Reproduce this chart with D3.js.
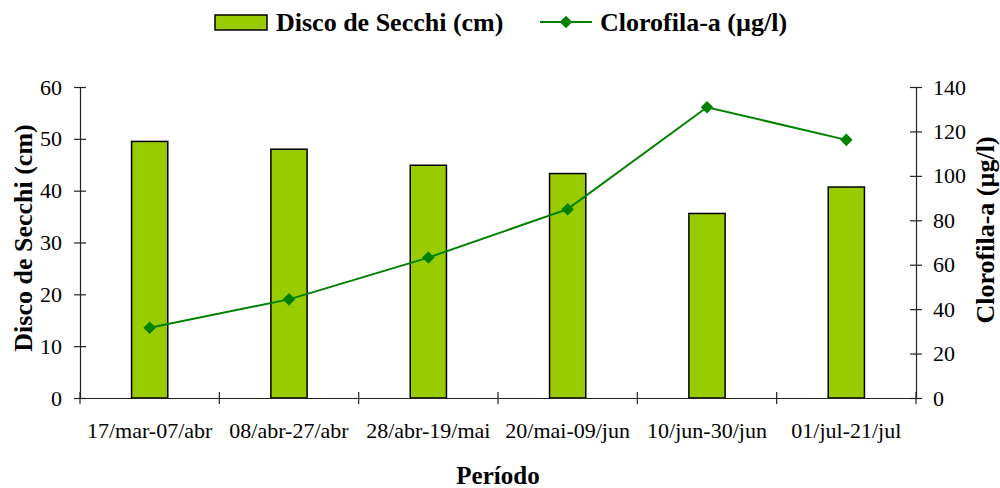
<!doctype html>
<html>
<head>
<meta charset="UTF-8">
<script src="https://d3js.org/d3.v7.min.js"></script>
<style>
  body { margin: 0; background: #fff; }
  text { font-family: "Liberation Serif", "Times New Roman", serif; fill: #000; }
</style>
</head>
<body>
<svg id="chart" width="1000" height="488"></svg>
<script>
// data
var periods = ["17/mar-07/abr", "08/abr-27/abr", "28/abr-19/mai", "20/mai-09/jun", "10/jun-30/jun", "01/jul-21/jul"];
var secchi = [49.5, 48.0, 44.9, 43.3, 35.6, 40.7];
var clorofila = [31.6, 44.4, 63.2, 85.0, 130.9, 116.2];
var leftTicks = [0, 10, 20, 30, 40, 50, 60];
var rightTicks = [0, 20, 40, 60, 80, 100, 120, 140];

var svg = d3.select("#chart");
var margin = {top: 87, right: 84, bottom: 90, left: 80};
var width = 1000 - margin.left - margin.right;
var height = 488 - margin.top - margin.bottom;
var serif = '"Liberation Serif", "Times New Roman", serif';

var g = svg.append("g").attr("transform", "translate(" + margin.left + "," + margin.top + ")");

var x = d3.scaleBand().domain(periods).range([0, width]);
var yL = d3.scaleLinear().domain([0, 60]).range([height, 0]);
var yR = d3.scaleLinear().domain([0, 140]).range([height, 0]);

// bars
var bw = x.bandwidth() * 0.26;
g.selectAll(".bar").data(secchi).enter().append("rect")
  .attr("x", function(d, i) { return x(periods[i]) + x.bandwidth() / 2 - bw / 2; })
  .attr("y", function(d) { return yL(d); })
  .attr("width", bw)
  .attr("height", function(d) { return height - yL(d); })
  .attr("fill", "#99cc00")
  .attr("stroke", "#000")
  .attr("stroke-width", 1.5);

// axes
function styleAxis(sel) {
  sel.attr("font-family", serif).attr("font-size", 22);
  sel.select(".domain").attr("stroke", "#222").attr("stroke-width", 1.2);
  sel.selectAll(".tick line").attr("stroke", "#222").attr("stroke-width", 1.2);
  sel.selectAll(".tick text").attr("fill", "#000");
}

var ax = g.append("g").attr("transform", "translate(0," + height + ")")
  .call(d3.axisBottom(x).tickValues([]).tickSizeOuter(0));
styleAxis(ax);
// category boundary ticks (crossing)
var bounds = d3.range(periods.length + 1);
ax.selectAll(".btick").data(bounds).enter().append("line")
  .attr("x1", function(d) { return d * x.step(); })
  .attr("x2", function(d) { return d * x.step(); })
  .attr("y1", -6).attr("y2", 6)
  .attr("stroke", "#222").attr("stroke-width", 1.2);
ax.selectAll(".lbl").data(periods).enter().append("text")
  .attr("x", function(d) { return x(d) + x.bandwidth() / 2; })
  .attr("y", 40)
  .attr("text-anchor", "middle")
  .attr("fill", "#000")
  .text(function(d) { return d; });

var al = g.append("g").call(d3.axisLeft(yL).tickValues(leftTicks).tickSize(6).tickSizeOuter(0).tickPadding(12));
styleAxis(al);
al.selectAll(".tick line").attr("x2", 6).attr("x1", -6);

var ar = g.append("g").attr("transform", "translate(" + width + ",0)")
  .call(d3.axisRight(yR).tickValues(rightTicks).tickSize(6).tickSizeOuter(0).tickPadding(11));
styleAxis(ar);
ar.selectAll(".tick line").attr("x1", -6).attr("x2", 6);

// line
var line = d3.line()
  .x(function(d, i) { return x(periods[i]) + x.bandwidth() / 2; })
  .y(function(d) { return yR(d); });
g.append("path").datum(clorofila)
  .attr("d", line)
  .attr("fill", "none")
  .attr("stroke", "#008000")
  .attr("stroke-width", 2);
g.selectAll(".pt").data(clorofila).enter().append("path")
  .attr("transform", function(d, i) { return "translate(" + (x(periods[i]) + x.bandwidth() / 2) + "," + yR(d) + ")"; })
  .attr("d", d3.symbol().type(d3.symbolDiamond2).size(100))
  .attr("fill", "#008000");

// axis titles
svg.append("text")
  .attr("transform", "translate(32,238) rotate(-90)")
  .attr("text-anchor", "middle")
  .style("font-size", "26px").style("font-weight", "bold")
  .text("Disco de Secchi (cm)");
svg.append("text")
  .attr("transform", "translate(994,230) rotate(-90)")
  .attr("text-anchor", "middle")
  .style("font-size", "26px").style("font-weight", "bold")
  .text("Clorofila-a (µg/l)");
svg.append("text")
  .attr("x", margin.left + width / 2).attr("y", 484)
  .attr("text-anchor", "middle")
  .style("font-size", "25px").style("font-weight", "bold")
  .text("Período");

// legend
var lg = svg.append("g");
lg.append("rect").attr("x", 215).attr("y", 15).attr("width", 52).attr("height", 15)
  .attr("fill", "#99cc00").attr("stroke", "#000").attr("stroke-width", 1.5);
lg.append("text").attr("x", 276).attr("y", 31)
  .style("font-size", "26px").style("font-weight", "bold")
  .text("Disco de Secchi (cm)");
lg.append("line").attr("x1", 540).attr("x2", 592).attr("y1", 22).attr("y2", 22)
  .attr("stroke", "#008000").attr("stroke-width", 2);
lg.append("path").attr("transform", "translate(566,22)")
  .attr("d", d3.symbol().type(d3.symbolDiamond2).size(100))
  .attr("fill", "#008000");
lg.append("text").attr("x", 600).attr("y", 31)
  .style("font-size", "26px").style("font-weight", "bold")
  .text("Clorofila-a (µg/l)");
</script>
</body>
</html>
